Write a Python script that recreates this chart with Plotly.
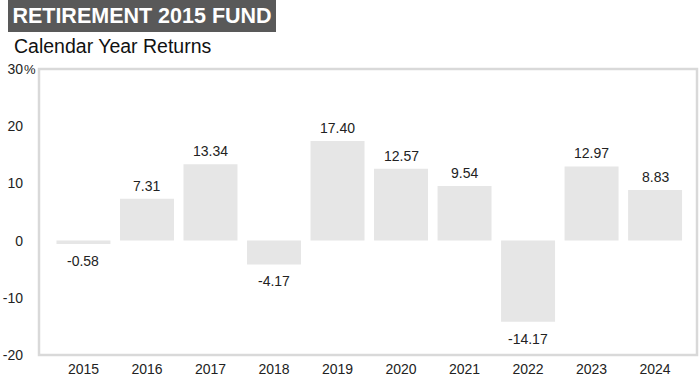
import plotly.graph_objects as go

years = ["2015", "2016", "2017", "2018", "2019", "2020", "2021", "2022", "2023", "2024"]
returns = [-0.58, 7.31, 13.34, -4.17, 17.40, 12.57, 9.54, -14.17, 12.97, 8.83]
y_ticks = [-20, -10, 0, 10, 20, 30]
y_tick_labels = ["-20", "-10", "0", "10", "20", "30"]
title_text = "RETIREMENT 2015 FUND"
subtitle_text = "Calendar Year Returns"

W, H = 700, 377
ml, mr, mt, mb = 39, 3, 69, 22
pw, ph = W - ml - mr, H - mt - mb
FONT = "Liberation Sans, Arial"

fig = go.Figure()
fig.add_trace(go.Bar(
    x=list(range(len(years))),
    y=returns,
    width=0.85,
    marker=dict(color="#e6e6e6", line=dict(width=0)),
    cliponaxis=False,
    hoverinfo="skip",
))

value_labels = [
    dict(x=i, y=v, xref="x", yref="y", text=f"{v:.2f}", showarrow=False,
         xanchor="center", yanchor="bottom" if v >= 0 else "top",
         yshift=3 if v >= 0 else -7,
         font=dict(family=FONT, size=14, color="#222222"))
    for i, v in enumerate(returns)
]

fig.update_layout(
    width=W, height=H,
    margin=dict(l=ml, r=mr, t=mt, b=mb, pad=0, autoexpand=False),
    paper_bgcolor="white", plot_bgcolor="white",
    showlegend=False,
    font=dict(family=FONT, size=14, color="#222222"),
    xaxis=dict(
        range=[-0.70, 9.66],
        tickmode="array",
        tickvals=list(range(len(years))),
        ticktext=years,
        ticks="",
        showgrid=False,
        zeroline=False,
        showline=False,
        automargin=False,
        ticklabelstandoff=4,
        tickfont=dict(size=14, color="#222222"),
    ),
    yaxis=dict(
        range=[-20, 30],
        tickmode="array",
        tickvals=y_ticks,
        ticktext=y_tick_labels,
        ticks="",
        showgrid=False,
        zeroline=True,
        zerolinecolor="white",
        zerolinewidth=1.5,
        showline=False,
        automargin=False,
        ticklabelstandoff=15,
        tickfont=dict(size=14, color="#222222"),
    ),
    shapes=[
        dict(type="rect", xref="paper", yref="paper", x0=0, x1=1, y0=0, y1=1,
             line=dict(color="#d9d9d9", width=2.5), fillcolor="rgba(0,0,0,0)", layer="above"),
    ],
    annotations=value_labels + [
        dict(text="<b>" + title_text + "</b>", xref="paper", yref="paper",
             x=-(ml - 8) / pw, y=1 + (mt - 0) / ph,
             xanchor="left", yanchor="top", showarrow=False,
             bgcolor="#595959", bordercolor="#595959", borderwidth=1,
             font=dict(family=FONT, size=21.5, color="white"),
             borderpad=1, width=264, height=28, align="center", valign="middle"),
        dict(text=subtitle_text, xref="paper", yref="paper",
             x=-(ml - 12) / pw, y=1 + (mt - 46) / ph,
             xanchor="left", yanchor="middle", showarrow=False,
             font=dict(family=FONT, size=19.5, color="#111111")),
        dict(text="%", xref="paper", yref="y",
             x=-(ml - 22) / pw, y=30,
             xanchor="left", yanchor="middle", showarrow=False,
             font=dict(family=FONT, size=13, color="#222222")),
    ],
)

fig.write_html("out.html", config={"displayModeBar": False},
               post_script="document.body.style.margin='0';document.body.style.overflow='hidden';")
